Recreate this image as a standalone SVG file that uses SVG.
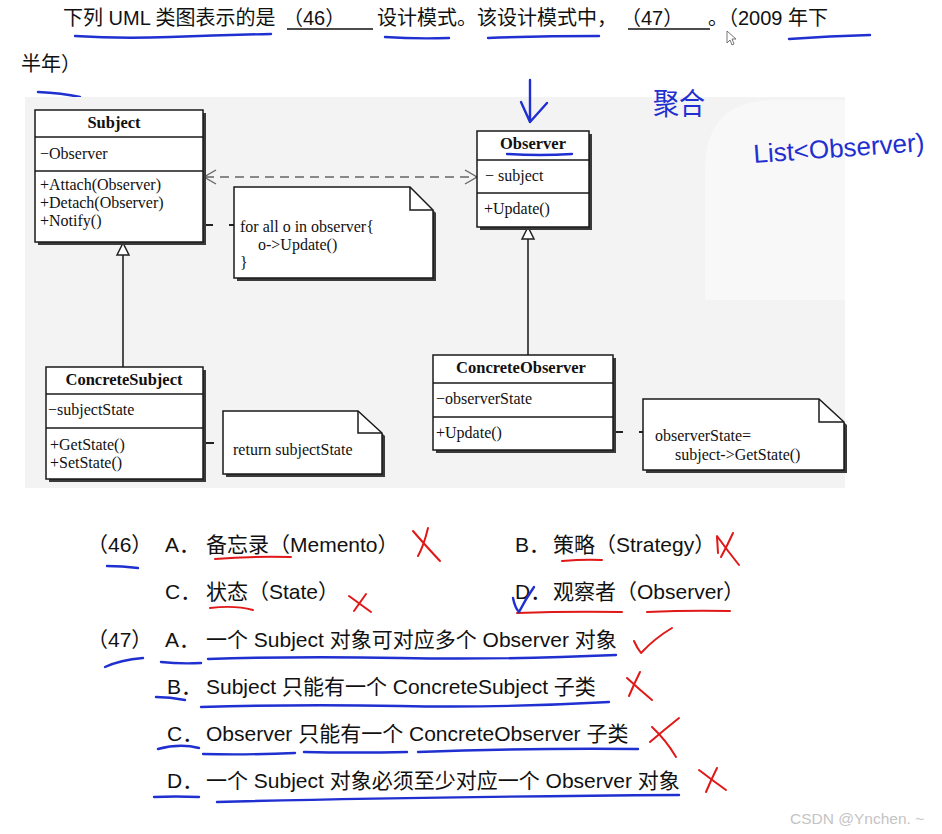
<svg xmlns="http://www.w3.org/2000/svg" width="942" height="834" viewBox="0 0 942 834">
<style>
.t{font-family:"Liberation Sans","Noto Sans CJK SC",sans-serif;fill:#111}
.t1{font-size:20px}
.t2{font-size:21px}
.u{font-family:"Liberation Serif","Noto Serif",serif;font-size:16px;fill:#111}
.ub{font-family:"Liberation Serif",serif;font-size:16.5px;font-weight:bold;fill:#111;text-anchor:middle}
.box{fill:#fff;stroke:#1a1a1a;stroke-width:1.5}
.sh{fill:#3a3a3a}
.sep{stroke:#1a1a1a;stroke-width:1.5}
.ln{stroke:#222;stroke-width:1.6;fill:none}
.blue{stroke:#1f2fd0;stroke-width:2.4;fill:none;stroke-linecap:round;stroke-linejoin:round}
.red{stroke:#e01818;stroke-width:2;fill:none;stroke-linecap:round;stroke-linejoin:round}
.blank{stroke:#111;stroke-width:1.5}
</style>
<rect width="942" height="834" fill="#fff"/>

<!-- title -->
<g id="title">
<text class="t t1" x="63" y="25">下列 UML 类图表示的是</text>
<text class="t t1" x="283" y="25">（46）</text>
<line class="blank" x1="287" y1="29" x2="373" y2="29"/>
<text class="t t1" x="377" y="25">设计模式。该设计模式中，</text>
<text class="t t1" x="621" y="25">（47）</text>
<line class="blank" x1="628" y1="29" x2="710" y2="29"/>
<text class="t t1" x="708" y="25">。（2009 年下</text>
<text class="t t1" x="21" y="71">半年）</text>
<path d="M727,31 L727,43 L730,40 L732,45 L734,44 L732,39 L736,39 Z" fill="#fff" stroke="#555" stroke-width="0.8"/>
</g>
<g id="title-marks">
<path class="blue" d="M75,36 Q120,39 170,37 T271,34"/>
<path class="blue" d="M385,37 Q415,39 449,38"/>
<path class="blue" d="M488,38 Q540,36 599,36"/>
<path class="blue" d="M789,39 Q830,36 870,35"/>
<path class="blue" d="M38,92 Q62,93 80,97"/>
</g>

<!-- UML picture background -->
<rect x="25" y="97" width="820" height="391" fill="#f3f3f3"/>
<path d="M705,300 L705,170 Q705,100 775,100 L845,100 L845,300 Z" fill="#f8f8f8"/>

<g id="connectors">
<g stroke="#666" stroke-width="1.4" fill="none">
<line x1="205" y1="177" x2="476" y2="177" stroke-dasharray="9,6"/>
<polyline points="216,170 204,177 216,184"/>
<polyline points="465,170 477,177 465,184"/>
</g>
<line class="ln" x1="123" y1="255" x2="123" y2="367"/>
<polygon points="123,243 117,255 129,255" fill="#fff" stroke="#222" stroke-width="1.5"/>
<line class="ln" x1="528" y1="239" x2="528" y2="355"/>
<polygon points="528,227 522,239 534,239" fill="#fff" stroke="#222" stroke-width="1.5"/>
<g stroke="#222" stroke-width="2" fill="none">
<circle cx="197" cy="225" r="3"/>
<line x1="200" y1="225" x2="213" y2="225"/>
<line x1="229" y1="225" x2="234" y2="225"/>
<circle cx="197" cy="443" r="3"/>
<line x1="200" y1="443" x2="214" y2="443"/>
<circle cx="607" cy="432" r="3"/>
<line x1="610" y1="432" x2="623" y2="432"/>
<line x1="639" y1="432" x2="643" y2="432"/>
</g>
</g>

<g id="Subject">
<rect class="sh" x="38" y="113" width="168" height="132"/>
<rect class="box" x="35" y="110" width="168" height="132"/>
<line class="sep" x1="35" y1="137" x2="203" y2="137"/>
<line class="sep" x1="35" y1="171" x2="203" y2="171"/>
<text class="ub" x="114" y="128">Subject</text>
<text class="u" x="40" y="159">−Observer</text>
<text class="u" x="40" y="190">+Attach(Observer)</text>
<text class="u" x="40" y="208">+Detach(Observer)</text>
<text class="u" x="40" y="226">+Notify()</text>
</g>

<g id="Observer">
<rect class="sh" x="480" y="134" width="112" height="96"/>
<rect class="box" x="477" y="131" width="112" height="96"/>
<line class="sep" x1="477" y1="160" x2="589" y2="160"/>
<line class="sep" x1="477" y1="193" x2="589" y2="193"/>
<text class="ub" x="533" y="149">Observer</text>
<text class="u" x="485" y="181">− subject</text>
<text class="u" x="484" y="214">+Update()</text>
</g>

<g id="ConcreteSubject">
<rect class="sh" x="49" y="370" width="157" height="112"/>
<rect class="box" x="46" y="367" width="157" height="112"/>
<line class="sep" x1="46" y1="394" x2="203" y2="394"/>
<line class="sep" x1="46" y1="428" x2="203" y2="428"/>
<text class="ub" x="124" y="385">ConcreteSubject</text>
<text class="u" x="48" y="415">−subjectState</text>
<text class="u" x="50" y="450">+GetState()</text>
<text class="u" x="50" y="468">+SetState()</text>
</g>

<g id="ConcreteObserver">
<rect class="sh" x="436" y="358" width="180" height="95"/>
<rect class="box" x="433" y="355" width="180" height="95"/>
<line class="sep" x1="433" y1="383" x2="613" y2="383"/>
<line class="sep" x1="433" y1="417" x2="613" y2="417"/>
<text class="ub" x="521" y="373">ConcreteObserver</text>
<text class="u" x="436" y="404">−observerState</text>
<text class="u" x="436" y="438">+Update()</text>
</g>

<g id="note-notify">
<polygon class="sh" points="237,190 413,190 436,213 436,281 237,281"/>
<polygon class="box" points="234,187 410,187 433,210 433,278 234,278"/>
<polyline points="410,187 410,210 433,210" fill="none" stroke="#1a1a1a" stroke-width="1.5"/>
<text class="u" x="240" y="232">for all o in observer{</text>
<text class="u" x="258" y="250">o-&gt;Update()</text>
<text class="u" x="240" y="268">}</text>
</g>

<g id="note-getstate">
<polygon class="sh" points="226,414 361,414 385,436 385,477 226,477"/>
<polygon class="box" points="223,411 358,411 382,433 382,474 223,474"/>
<polyline points="358,411 358,433 382,433" fill="none" stroke="#1a1a1a" stroke-width="1.5"/>
<text class="u" x="233" y="455">return subjectState</text>
</g>

<g id="note-update">
<polygon class="sh" points="646,402 822,402 847,425 847,473 646,473"/>
<polygon class="box" points="643,399 819,399 844,422 844,470 643,470"/>
<polyline points="819,399 819,422 844,422" fill="none" stroke="#1a1a1a" stroke-width="1.5"/>
<text class="u" x="655" y="441">observerState=</text>
<text class="u" x="675" y="460">subject-&gt;GetState()</text>
</g>

<g id="diagram-marks">
<path class="blue" d="M530,80 L530,122 M521,102 L530,122 L547,103"/>
<path class="blue" d="M507,154 Q540,156 572,154"/>
<text x="653" y="114" font-family="Noto Sans CJK SC,sans-serif" font-size="30" fill="#1f2fd0" textLength="52" lengthAdjust="spacingAndGlyphs">聚合</text>
<text x="754" y="163" transform="rotate(-4 754 163)" font-family="Liberation Sans,sans-serif" font-size="26" fill="#1f2fd0">List&lt;Observer)</text>
</g>

<!-- options -->
<g id="q46">
<text class="t t2" x="87" y="552">（46）</text>
<text class="t t2" x="165" y="552">A．</text>
<text class="t t2" x="206" y="552">备忘录（Memento）</text>
<text class="t t2" x="515" y="552">B．</text>
<text class="t t2" x="553" y="552">策略（Strategy）</text>
<text class="t t2" x="165" y="599">C．</text>
<text class="t t2" x="206" y="599">状态（State）</text>
<text class="t t2" x="515" y="599">D．</text>
<text class="t t2" x="553" y="599">观察者（Observer）</text>
</g>
<g id="q47">
<text class="t t2" x="87" y="647">（47）</text>
<text class="t t2" x="165" y="647">A．</text>
<text class="t t2" x="206" y="647">一个 Subject 对象可对应多个 Observer 对象</text>
<text class="t t2" x="167" y="694">B．</text>
<text class="t t2" x="206" y="694">Subject 只能有一个 ConcreteSubject 子类</text>
<text class="t t2" x="167" y="741">C．</text>
<text class="t t2" x="206" y="741">Observer 只能有一个 ConcreteObserver 子类</text>
<text class="t t2" x="167" y="788">D．</text>
<text class="t t2" x="206" y="788">一个 Subject 对象必须至少对应一个 Observer 对象</text>
</g>

<g id="option-marks">
<path class="blue" d="M107,566 Q122,566 138,568"/>
<path class="red" d="M413,531 Q425,545 440,561 M428,528 Q424,545 418,556"/>
<path class="red" d="M717,537 L718,553 M717,536 Q727,550 739,565 M733,533 Q727,546 721,557"/>
<path class="red" d="M215,559 Q250,556 291,557"/>
<path class="red" d="M562,561 Q585,559 602,560"/>
<path class="red" d="M210,608 Q235,605 253,610"/>
<path class="red" d="M349,596 L371,612 M366,594 L354,611"/>
<path class="red" d="M517,613 Q570,611 622,612"/>
<path class="red" d="M647,612 Q690,610 730,611"/>
<path class="blue" d="M513,598 Q515,608 519,612 Q525,600 534,587"/>

<path class="blue" d="M105,667 Q120,660 143,658"/>
<path class="blue" d="M161,662 Q180,664 201,663"/>
<path class="blue" d="M208,659 Q300,656 400,658 T616,655"/>
<path class="red" d="M634,641 Q637,648 641,653 Q655,638 672,628"/>
<path class="blue" d="M156,697 Q170,697 185,700"/>
<path class="blue" d="M201,707 Q300,704 400,706 T609,702"/>
<path class="red" d="M627,678 Q640,690 652,700 M640,672 Q634,684 629,696"/>
<path class="blue" d="M158,749 Q180,743 199,748"/>
<path class="blue" d="M203,754 Q250,755 295,753"/>
<path class="blue" d="M304,752 Q355,753 407,752"/>
<path class="blue" d="M418,752 Q520,748 638,749"/>
<path class="red" d="M679,718 Q664,730 650,742 M652,727 Q666,740 676,757"/>
<path class="blue" d="M154,797 Q175,796 199,797"/>
<path class="blue" d="M217,802 Q400,797 679,795"/>
<path class="red" d="M699,770 Q712,780 726,790 M717,768 Q711,780 706,792"/>
</g>

<text x="790" y="824" font-family="Liberation Sans,sans-serif" font-size="15.5" fill="#c4c4c4">CSDN @Ynchen. ~</text>
</svg>
